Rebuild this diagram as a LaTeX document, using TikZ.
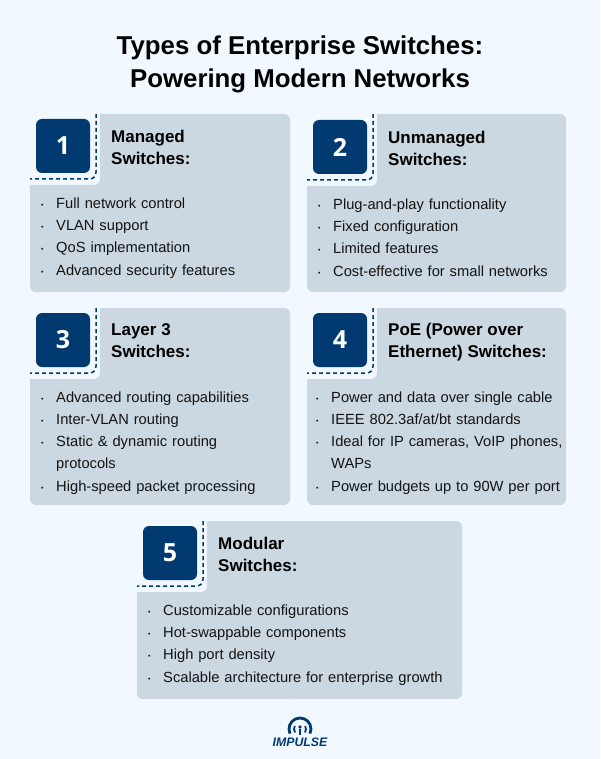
\documentclass[tikz,border=0pt]{standalone}
\usepackage{fontspec}
\setmainfont{Liberation Sans}
\newfontfamily\numfont{Open Sans}
\usepackage{tikz}
\usetikzlibrary{positioning}
\definecolor{pagebg}{HTML}{F2F8FF}
\definecolor{panelbg}{HTML}{CBD7E1}
\definecolor{navy}{HTML}{003A70}
\definecolor{ink}{HTML}{141414}
\begin{document}
\begin{tikzpicture}[x=1pt,y=-1pt,node distance=0pt,
  panel/.style={fill=panelbg},
  dash line/.style={draw=navy,line width=1.5pt,dash pattern=on 4pt off 3pt},
  title node/.style={align=center,text=black,font=\fontsize{25.8}{33}\selectfont\bfseries},
  num node/.style={rectangle,rounded corners=6pt,fill=navy,text=white,minimum size=54pt,inner sep=0pt,font=\fontsize{25}{30}\selectfont\numfont\bfseries},
  head node/.style={anchor=west,align=left,inner sep=0pt,text=black,font=\fontsize{17}{22}\selectfont\bfseries},
  item node/.style={inner sep=0pt,text width=340pt,align=left,text=ink,font=\fontsize{14.7}{22}\selectfont,
    execute at begin node={\strut\hangindent=15pt\hangafter=1\makebox[15pt][l]{\raisebox{1pt}{\scriptsize\textbullet}}},
    execute at end node={\strut}},
  logo line/.style={draw=navy,line width=2.8pt},
  logo thin/.style={draw=navy,line width=1.8pt}]
  \useasboundingbox[fill=pagebg] (0,0) rectangle (600,759);

  \node[title node] (title) at (300,64) {Types of Enterprise Switches:\\Powering Modern Networks};

  % panels
  \fill[panel] (100,114) [rounded corners=6pt] -- (290,114) -- (290,292) -- (30,292) [sharp corners] -- (30,185) [rounded corners=6pt] -- (100,185) [sharp corners] -- cycle;
  \fill[panel] (377,114) [rounded corners=6pt] -- (566,114) -- (566,292) -- (307,292) [sharp corners] -- (307,186) [rounded corners=6pt] -- (377,186) [sharp corners] -- cycle;
  \fill[panel] (100,308) [rounded corners=6pt] -- (290,308) -- (290,505) -- (30,505) [sharp corners] -- (30,379) [rounded corners=6pt] -- (100,379) [sharp corners] -- cycle;
  \fill[panel] (377,308) [rounded corners=6pt] -- (566,308) -- (566,505) -- (307,505) [sharp corners] -- (307,379) [rounded corners=6pt] -- (377,379) [sharp corners] -- cycle;
  \fill[panel] (207,521) [rounded corners=6pt] -- (462,521) -- (462,699) -- (137,699) [sharp corners] -- (137,592) [rounded corners=6pt] -- (207,592) [sharp corners] -- cycle;

  % dashes
  \draw[dash line] (96,114) -- (96,172) .. controls (96,177) and (93,179) .. (89,179) -- (30,179);
  \draw[dash line] (373,114) -- (373,173) .. controls (373,178) and (370,180) .. (366,180) -- (307,180);
  \draw[dash line] (96,308) -- (96,366) .. controls (96,371) and (93,373) .. (89,373) -- (30,373);
  \draw[dash line] (373,308) -- (373,366) .. controls (373,371) and (370,373) .. (366,373) -- (307,373);
  \draw[dash line] (203,521) -- (203,579) .. controls (203,584) and (200,586) .. (196,586) -- (137,586);

  \node[num node] (1) at (63,146) {1};
  \node[num node] (2) at (340,147) {2};
  \node[num node] (3) at (63,340) {3};
  \node[num node] (4) at (340,340) {4};
  \node[num node] (5) at (170,553) {5};

  \node[head node] (h1) at (111,147) {Managed\\Switches:};
  \node[head node] (h2) at (388,148) {Unmanaged\\Switches:};
  \node[head node] (h3) at (111,341) {Layer 3\\Switches:};
  \node[head node] (h4) at (388,342) {PoE (Power over\\Ethernet) Switches:};
  \node[head node] (h5) at (218,554) {Modular\\Switches:};

  \node[item node,anchor=north west] (a1) at (41,192.4) {Full network control};
  \node[item node] (a2) [below=of a1] {VLAN support};
  \node[item node] (a3) [below=of a2] {QoS implementation};
  \node[item node] (a4) [below=of a3] {Advanced security features};

  \node[item node,anchor=north west] (b1) at (318,193.4) {Plug-and-play functionality};
  \node[item node] (b2) [below=of b1] {Fixed configuration};
  \node[item node] (b3) [below=of b2] {Limited features};
  \node[item node] (b4) [below=of b3] {Cost-effective for small networks};

  \node[item node,anchor=north west] (c1) at (41,386.4) {Advanced routing capabilities};
  \node[item node] (c2) [below=of c1] {Inter-VLAN routing};
  \node[item node] (c3) [below=of c2] {Static \& dynamic routing\newline protocols};
  \node[item node] (c4) [below=of c3] {High-speed packet processing};

  \node[item node,anchor=north west] (d1) at (316,386.4) {Power and data over single cable};
  \node[item node] (d2) [below=of d1] {IEEE 802.3af/at/bt standards};
  \node[item node] (d3) [below=of d2] {Ideal for IP cameras, VoIP phones,\newline WAPs};
  \node[item node] (d4) [below=of d3] {Power budgets up to 90W per port};

  \node[item node,anchor=north west] (e1) at (148,599.4) {Customizable configurations};
  \node[item node] (e2) [below=of e1] {Hot-swappable components};
  \node[item node] (e3) [below=of e2] {High port density};
  \node[item node] (e4) [below=of e3] {Scalable architecture for enterprise growth};

  % logo
  \draw[logo line] (300,729) ++(205:11pt) arc (205:-25:11pt);
  \draw[logo thin] (300,729) ++(150:6pt) arc (150:215:6pt);
  \draw[logo thin] (300,729) ++(30:6pt) arc (30:-35:6pt);
  \fill[navy] (300,727) circle (1.8pt);
  \draw[logo thin] (300,729) -- (300,735);
  \node[inner sep=0pt,text=navy,font=\fontsize{12.3}{13}\selectfont\bfseries\itshape] (logo) at (300,742) {IMPULSE};
\end{tikzpicture}
\end{document}
